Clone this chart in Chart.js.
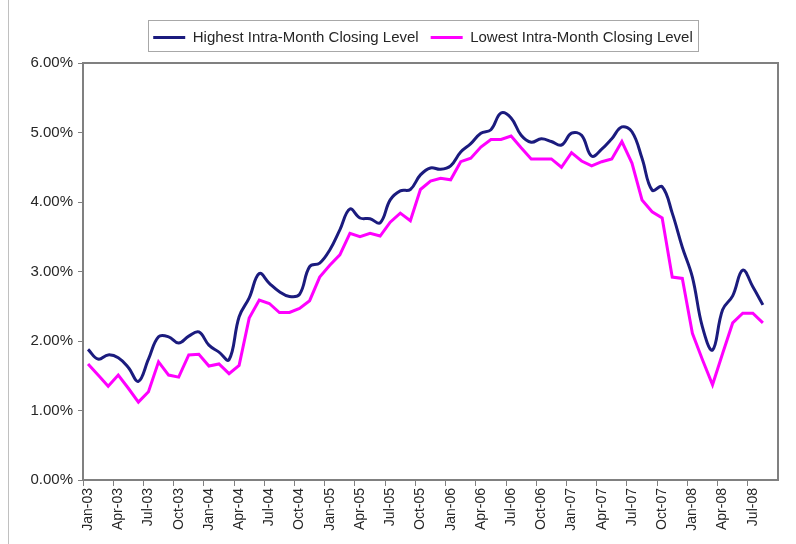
<!DOCTYPE html>
<html>
<head>
<meta charset="utf-8">
<script src="https://cdn.jsdelivr.net/npm/chart.js@4.4.1/dist/chart.umd.min.js"></script>
<style>
  html, body { margin: 0; padding: 0; background: #fff; }
  #wrap { width: 796px; height: 544px; position: relative; }
</style>
</head>
<body>
<div id="wrap"><canvas id="chart" width="796" height="544"></canvas></div>
<script>
const months = [
  'Jan-03','Feb-03','Mar-03','Apr-03','May-03','Jun-03','Jul-03','Aug-03','Sep-03','Oct-03','Nov-03','Dec-03',
  'Jan-04','Feb-04','Mar-04','Apr-04','May-04','Jun-04','Jul-04','Aug-04','Sep-04','Oct-04','Nov-04','Dec-04',
  'Jan-05','Feb-05','Mar-05','Apr-05','May-05','Jun-05','Jul-05','Aug-05','Sep-05','Oct-05','Nov-05','Dec-05',
  'Jan-06','Feb-06','Mar-06','Apr-06','May-06','Jun-06','Jul-06','Aug-06','Sep-06','Oct-06','Nov-06','Dec-06',
  'Jan-07','Feb-07','Mar-07','Apr-07','May-07','Jun-07','Jul-07','Aug-07','Sep-07','Oct-07','Nov-07','Dec-07',
  'Jan-08','Feb-08','Mar-08','Apr-08','May-08','Jun-08','Jul-08','Aug-08','Sep-08'
];

// percent values
const highest = [
  1.88, 1.74, 1.80, 1.76, 1.62, 1.42, 1.74, 2.06, 2.06, 1.97, 2.07, 2.13,
  1.94, 1.84, 1.73, 2.35, 2.62, 2.97, 2.83, 2.71, 2.64, 2.67, 3.07, 3.12,
  3.31, 3.60, 3.90, 3.77, 3.76, 3.70, 4.03, 4.16, 4.18, 4.39, 4.49, 4.47,
  4.52, 4.72, 4.84, 4.99, 5.04, 5.28, 5.21, 4.96, 4.86, 4.91, 4.87, 4.82,
  4.99, 4.96, 4.66, 4.76, 4.91, 5.08, 5.01, 4.63, 4.17, 4.22, 3.84, 3.35,
  2.92, 2.20, 1.87, 2.45, 2.65, 3.02, 2.78, 2.52
];
const lowest = [
  1.67, 1.51, 1.35, 1.51, 1.32, 1.12, 1.27, 1.70, 1.51, 1.48, 1.80, 1.81,
  1.64, 1.67, 1.53, 1.65, 2.33, 2.59, 2.54, 2.41, 2.41, 2.47, 2.58, 2.92,
  3.09, 3.24, 3.55, 3.50, 3.55, 3.51, 3.71, 3.84, 3.73, 4.18, 4.30, 4.34,
  4.32, 4.58, 4.63, 4.79, 4.90, 4.90, 4.95, 4.78, 4.62, 4.62, 4.62, 4.50,
  4.71, 4.59, 4.52, 4.58, 4.62, 4.87, 4.56, 4.03, 3.86, 3.77, 2.92, 2.90,
  2.11, 1.73, 1.37, 1.82, 2.26, 2.40, 2.40, 2.26
];
const yTicks = [0, 1, 2, 3, 4, 5, 6];

const axisGray = '#808080';
const textColor = '#262626';
const fontFamily = 'Liberation Sans, Arial, sans-serif';

// legend sits right of centre and high in the original, box round it, frame round the plot
const framePlugin = {
  id: 'frame',
  afterLayout(chart) {
    const lg = chart.legend;
    if (lg) {
      lg.left += 34;
      lg.right += 34;
      lg.top -= 8;
      lg.bottom -= 8;
    }
  },
  afterDraw(chart) {
    const { ctx, chartArea: a } = chart;
    ctx.save();
    ctx.strokeStyle = axisGray;
    ctx.lineWidth = 2;
    ctx.strokeRect(a.left, a.top, a.right - a.left, a.bottom - a.top);
    ctx.strokeStyle = '#a8a8a8';
    ctx.lineWidth = 1;
    ctx.strokeRect(148.5, 20.5, 550, 31);
    ctx.beginPath();
    ctx.moveTo(8.5, 0);
    ctx.lineTo(8.5, 544);
    ctx.strokeStyle = '#c0c0c0';
    ctx.stroke();
    ctx.restore();
  }
};

new Chart(document.getElementById('chart'), {
  type: 'line',
  data: {
    labels: months,
    datasets: [
      {
        label: 'Highest Intra-Month Closing Level',
        data: highest,
        borderColor: '#1b1b7e',
        backgroundColor: '#1b1b7e',
        borderWidth: 3,
        pointRadius: 0,
        tension: 0.4,
        fill: false
      },
      {
        label: 'Lowest Intra-Month Closing Level',
        data: lowest,
        borderColor: '#ff00ff',
        backgroundColor: '#ff00ff',
        borderWidth: 3,
        pointRadius: 0,
        tension: 0,
        fill: false
      }
    ]
  },
  options: {
    responsive: false,
    animation: false,
    layout: { padding: { left: 0, right: 18, top: 26, bottom: 0 } },
    plugins: {
      legend: {
        position: 'top',
        labels: {
          usePointStyle: true,
          pointStyleWidth: 32,
          pointStyle: 'line',
          boxHeight: 8,
          padding: 12,
          color: textColor,
          font: { family: fontFamily, size: 15 }
        }
      },
      tooltip: { enabled: false }
    },
    scales: {
      x: {
        type: 'category',
        offset: true,
        grid: {
          display: true,
          offset: true,
          drawOnChartArea: false,
          tickLength: 6,
          tickColor: ctx => (ctx.index % 3 === 0 ? axisGray : 'rgba(0,0,0,0)')
        },
        border: { color: axisGray, width: 2 },
        ticks: {
          autoSkip: false,
          maxRotation: 90,
          minRotation: 90,
          padding: 2,
          color: textColor,
          font: { family: fontFamily, size: 14 },
          callback: (v, i) => (i % 3 === 0 ? months[i] : '')
        },
        afterFit: s => { s.height = 64; }
      },
      y: {
        min: 0,
        max: 6,
        afterBuildTicks: s => { s.ticks = yTicks.map(v => ({ value: v })); },
        grid: {
          display: true,
          drawOnChartArea: false,
          tickLength: 5,
          tickColor: axisGray
        },
        border: { color: axisGray, width: 2 },
        ticks: {
          padding: 5,
          color: textColor,
          font: { family: fontFamily, size: 15 },
          callback: v => v.toFixed(2) + '%'
        },
        afterFit: s => { s.width = 83; }
      }
    }
  },
  plugins: [framePlugin]
});
</script>
</body>
</html>
